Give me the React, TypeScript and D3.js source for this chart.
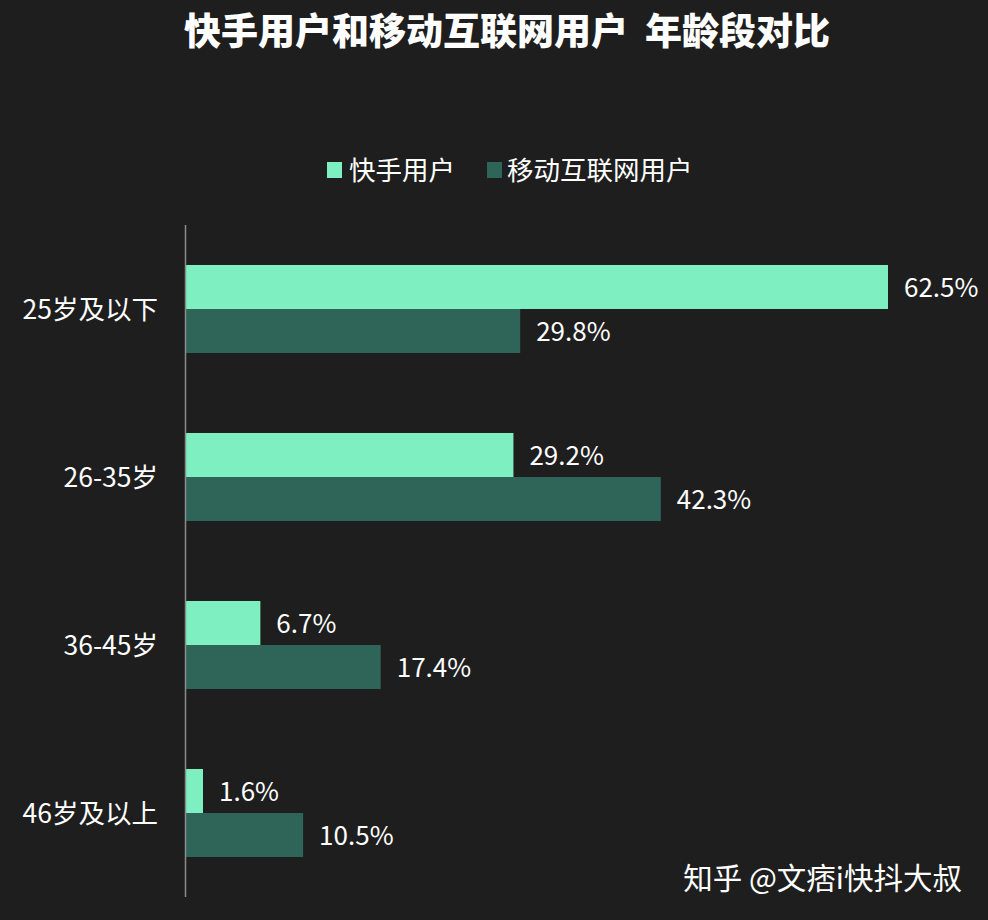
import React from "react";
import * as d3 from "d3";

const categories = ["25岁及以下", "26-35岁", "36-45岁", "46岁及以上"];
const seriesNames = ["快手用户", "移动互联网用户"];
const kuaishouValues = [62.5, 29.2, 6.7, 1.6];
const mobileValues = [29.8, 42.3, 17.4, 10.5];
const colors = ["#7eefc1", "#2f6459"];

const W = 988;
const H = 920;
const FONT = "'Noto Sans CJK SC', 'Noto Sans', sans-serif";

export default function App() {
  const x = d3.scaleLinear().domain([0, 62.5]).range([185, 888]);
  const y = d3.scaleBand<string>().domain(categories).range([225, 897]).paddingInner(0.476).paddingOuter(0.238);
  const sub = d3.scaleBand<number>().domain([0, 1]).range([0, y.bandwidth()]);
  const series = [kuaishouValues, mobileValues];

  return (
    <svg width={W} height={H} style={{ position: "absolute", left: 0, top: 0, background: "#1e1e1e" }}>
      <rect x={0} y={0} width={W} height={H} fill="#1e1e1e" />
      <text x={507} y={45} textAnchor="middle" fill="#ffffff" fontFamily={FONT} fontWeight={900} fontSize={37} style={{ whiteSpace: "pre" }}>
        {"快手用户和移动互联网用户  年龄段对比"}
      </text>
      {/* legend */}
      <g fontFamily={FONT} fontSize={26.5} fill="#ffffff">
        <rect x={327} y={162} width={15} height={16} fill={colors[0]} />
        <text x={349} y={180}>{seriesNames[0]}</text>
        <rect x={487} y={162} width={15} height={16} fill={colors[1]} />
        <text x={507} y={180}>{seriesNames[1]}</text>
      </g>
      {/* bars */}
      {categories.map((c, i) => (
        <g key={c}>
          {series.map((vals, s) => {
            const by = (y(c) as number) + (sub(s) as number);
            const bh = sub.bandwidth();
            return (
              <g key={s}>
                <rect x={x(0)} y={by} width={x(vals[i]) - x(0)} height={bh} fill={colors[s]} />
                <text x={x(vals[i]) + 16} y={by + bh / 2 + 10} fill="#ffffff" fontFamily={FONT} fontSize={26}>
                  {vals[i].toFixed(1)}%
                </text>
              </g>
            );
          })}
          <text x={158} y={(y(c) as number) + y.bandwidth() / 2 + 10} textAnchor="end" fill="#ffffff" fontFamily={FONT} fontSize={26.5}>
            {c}
          </text>
        </g>
      ))}
      <line x1={185.5} x2={185.5} y1={225} y2={897} stroke="#8c8c8c" strokeWidth={1.5} />
      <text x={962} y={889} textAnchor="end" fill="#ffffff" fontFamily={FONT} fontSize={29.5}>
        知乎 @文痞i快抖大叔
      </text>
    </svg>
  );
}
